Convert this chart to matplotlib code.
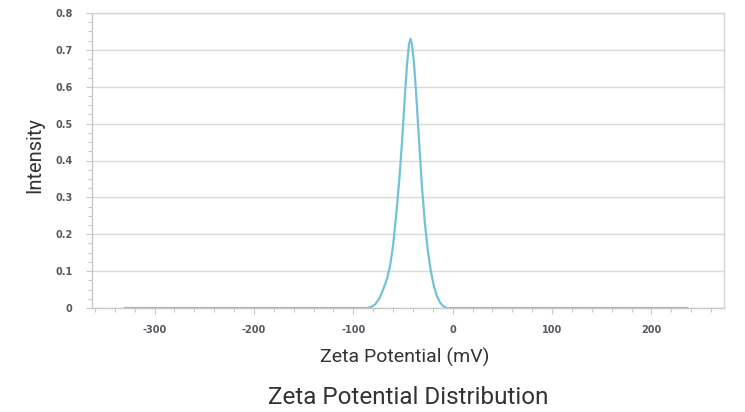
import matplotlib
matplotlib.use("Agg")
import matplotlib.pyplot as plt
from matplotlib.ticker import MultipleLocator, FuncFormatter

# Data
zeta_mv = [-330, -86, -82, -78, -74, -70, -66, -63, -60, -57, -54, -51, -48, -46, -44,
           -42.5, -41, -39, -37, -34, -31, -28, -25, -22, -19, -16, -13, -10, -7, -5, 236]
intensity = [0, 0, 0.003, 0.01, 0.025, 0.05, 0.08, 0.115, 0.17, 0.25, 0.34, 0.45, 0.58, 0.66, 0.715,
             0.73, 0.715, 0.665, 0.59, 0.46, 0.33, 0.23, 0.155, 0.1, 0.06, 0.033, 0.016, 0.006, 0.001, 0, 0]
x_ticks = [-300, -200, -100, 0, 100, 200]
y_ticks = [0, 0.1, 0.2, 0.3, 0.4, 0.5, 0.6, 0.7, 0.8]

fig = plt.figure(figsize=(7.45, 4.12), dpi=100)
ax = fig.add_axes([92/745, 1-308/412, (724-92)/745, (308-13)/412])

ax.plot(zeta_mv, intensity, color="#72c2d8", lw=1.6, solid_joinstyle="round")

ax.set_xlim(-363, 273)
ax.set_ylim(0, 0.8)
ax.set_xticks(x_ticks)
ax.set_yticks(y_ticks)
ax.xaxis.set_minor_locator(MultipleLocator(20))
ax.yaxis.set_minor_locator(MultipleLocator(0.025))
ax.xaxis.set_major_formatter(FuncFormatter(lambda v, p: f"{int(round(v))}"))
ax.yaxis.set_major_formatter(FuncFormatter(lambda v, p: "0" if v == 0 else f"{v:.1f}"))

ax.grid(True, which="major", axis="y", color="#dadada", lw=1.0)
for s in ax.spines.values():
    s.set_color("#d4d4d4")
    s.set_linewidth(1.0)
ax.spines["bottom"].set_color("#c8c8c8")
ax.spines["left"].set_color("#c8c8c8")

ax.tick_params(axis="both", which="both", colors="#c8c8c8", labelcolor="#5a5560",
               labelsize=7, direction="out")
ax.tick_params(axis="both", which="major", length=4, width=0.8)
ax.tick_params(axis="both", which="minor", length=3, width=0.8)
ax.tick_params(axis="x", which="major", pad=8)
ax.tick_params(axis="y", which="major", pad=10)
for lbl in ax.get_xticklabels() + ax.get_yticklabels():
    lbl.set_fontweight("semibold")
    lbl.set_family("DejaVu Sans")

fig.text(35/745, 1-155/412, "Intensity", rotation=90, ha="center", va="center",
         family="Roboto", fontsize=14.5, color="#333333")
fig.text(405/745, 1-357/412, "Zeta Potential (mV)", ha="center", va="center",
         family="Roboto", fontsize=14, color="#333333")
fig.text(408/745, 1-397/412, "Zeta Potential Distribution", ha="center", va="center",
         family="Roboto", fontsize=17.5, color="#333333")

fig.savefig("out.png", dpi=100, facecolor="white")
